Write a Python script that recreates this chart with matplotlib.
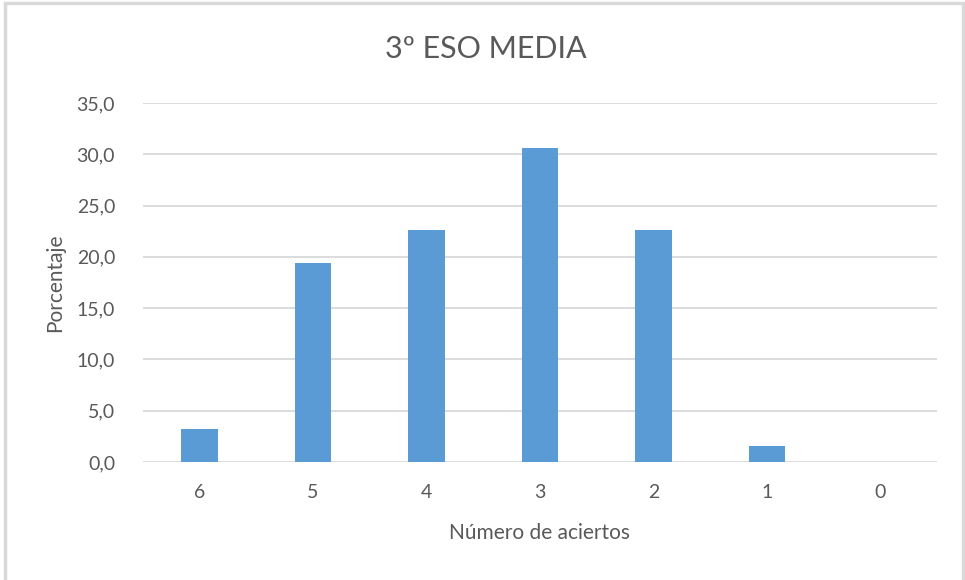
import matplotlib.pyplot as plt
from matplotlib.patches import Rectangle
from matplotlib.ticker import FuncFormatter

categorias = ['6', '5', '4', '3', '2', '1', '0']
porcentajes = [3.2, 19.4, 22.6, 30.6, 22.6, 1.6, 0.0]
titulo = '3º ESO MEDIA'

plt.rcParams['font.family'] = ['Lato', 'DejaVu Sans']
gris = '#595959'

fig = plt.figure(figsize=(9.65, 5.8), dpi=100)
ax = fig.add_axes([0.148, 0.2034, 0.823, 0.619])

x = range(len(categorias))
ax.bar(x, porcentajes, width=0.32, color='#5B9BD5', zorder=3)
ax.set_xlim(-0.5, len(categorias) - 0.5)
ax.set_ylim(0, 35)
ax.set_yticks([0, 5, 10, 15, 20, 25, 30, 35])
ax.yaxis.set_major_formatter(FuncFormatter(lambda v, p: ('%.1f' % v).replace('.', ',')))
ax.set_xticks(list(x))
ax.set_xticklabels(categorias)
ax.grid(axis='y', color='#D9D9D9', linewidth=1.3, zorder=0)
for s in ax.spines.values():
    s.set_visible(False)
ax.tick_params(length=0, labelsize=14, colors=gris)
ax.tick_params(axis='x', pad=16)
ax.tick_params(axis='y', pad=20)

ax.set_xlabel('Número de aciertos', fontsize=15, color=gris, labelpad=16)
ax.set_ylabel('Porcentaje', fontsize=15, color=gris, labelpad=8)
fig.text(0.503, 0.915, titulo, fontsize=22, color=gris, ha='center', va='center')

fig.patches.append(Rectangle((0.005, -0.01), 0.993, 1.004, transform=fig.transFigure,
                             fill=False, edgecolor='#D9D9D9', linewidth=2.5))

fig.savefig('out.png')
